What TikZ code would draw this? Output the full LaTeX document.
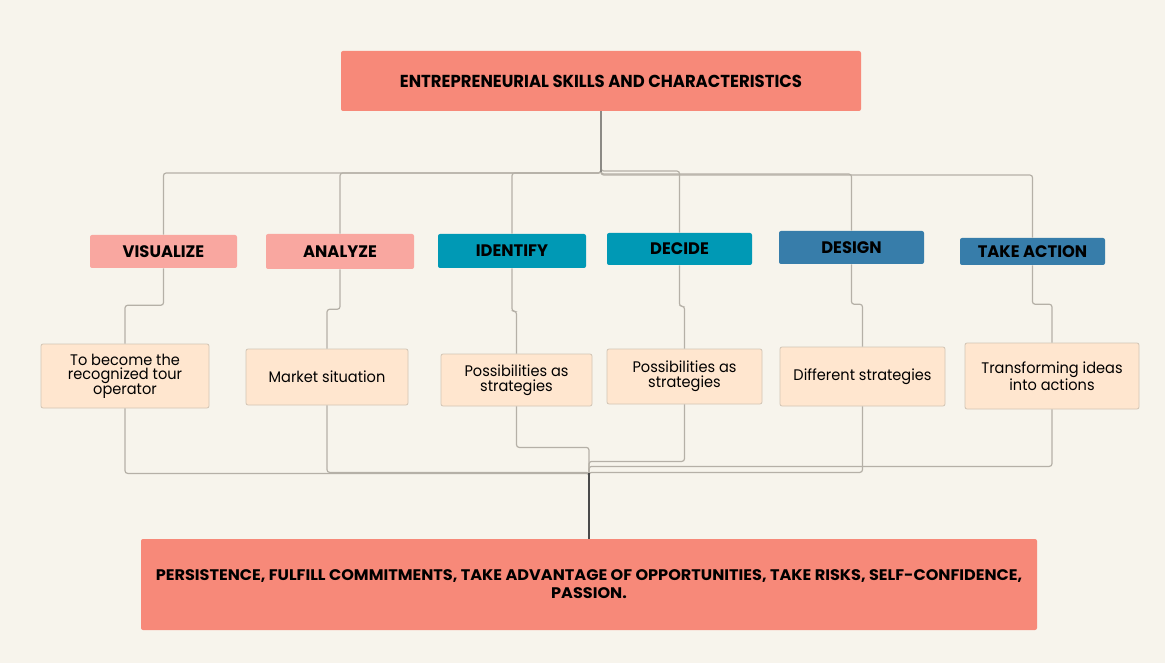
\documentclass[tikz,border=0pt]{standalone}
\usepackage{fontspec}
\setmainfont{Poppins}
\newfontfamily\headfont{Poppins}[FakeStretch=0.95]
\newfontfamily\catfont{Poppins}[FakeStretch=0.98]
\newfontfamily\bottomfont{Poppins}[FakeStretch=1.05]
\newfontfamily\bodyfont{Poppins}[FakeStretch=0.95]
\definecolor{bg}{HTML}{F7F4EC}
\definecolor{salmon}{HTML}{F78979}
\definecolor{pinkl}{HTML}{F9A7A0}
\definecolor{tealc}{HTML}{0099B5}
\definecolor{bluec}{HTML}{377DAA}
\definecolor{peach}{HTML}{FFE6CF}
\definecolor{peachline}{HTML}{D2C4B4}
\definecolor{linec}{HTML}{B5B0A7}
\definecolor{toptrunkc}{HTML}{8C8A85}
\definecolor{trunkc}{HTML}{4A4A4A}
\begin{document}
\begin{tikzpicture}[x=0.75pt,y=-0.75pt,
  box/.style={rectangle,rounded corners=1.5pt,inner sep=0pt,align=center,anchor=center},
  titlebox/.style={box,fill=salmon,font=\headfont\bfseries\fontsize{13}{15}\selectfont},
  catbox/.style={box,font=\catfont\bfseries\fontsize{12.5}{14}\selectfont},
  detbox/.style={box,fill=peach,draw=peachline,line width=0.6pt,font=\bodyfont\fontsize{11.5}{11}\selectfont},
  conn/.style={draw=linec,line width=0.9pt,rounded corners=2pt},
  trunk/.style={draw=trunkc,line width=1pt}]
\useasboundingbox (0,0) rectangle (1165,663);
\fill[bg] (0,0) rectangle (1165,663);
% top and bottom
\node[titlebox,minimum width=390pt,minimum height=45pt] (top) at (601,81) {ENTREPRENEURIAL SKILLS AND CHARACTERISTICS};
\node[box,fill=salmon,minimum width=672pt,minimum height=68.25pt,font=\bottomfont\bfseries\fontsize{11.5}{13.5}\selectfont] (bot) at (589,584.5) {PERSISTENCE, FULFILL COMMITMENTS, TAKE ADVANTAGE OF OPPORTUNITIES, TAKE RISKS, SELF-CONFIDENCE,\\PASSION.};
% categories
\node[catbox,fill=pinkl,minimum width=110.25pt,minimum height=24.75pt] (c1) at (163.5,251.5) {VISUALIZE};
\node[catbox,fill=pinkl,minimum width=111pt,minimum height=26.25pt] (c2) at (340,251.5) {ANALYZE};
\node[catbox,fill=tealc,minimum width=111pt,minimum height=25.5pt] (c3) at (512,251) {IDENTIFY};
\node[catbox,fill=tealc,minimum width=108.75pt,minimum height=24pt] (c4) at (679.5,249) {DECIDE};
\node[catbox,fill=bluec,minimum width=108.75pt,minimum height=24.75pt] (c5) at (851.5,247.5) {DESIGN};
\node[catbox,fill=bluec,minimum width=108.75pt,minimum height=20.25pt] (c6) at (1032.5,251.5) {TAKE ACTION};
% details
\node[detbox,minimum width=126pt,minimum height=48pt] (d1) at (125,376) {To become the\\recognized tour\\operator};
\node[detbox,minimum width=121.5pt,minimum height=42pt] (d2) at (327,377) {Market situation};
\node[detbox,minimum width=113.25pt,minimum height=39pt] (d3) at (516.5,380) {Possibilities as\\strategies};
\node[detbox,minimum width=116.25pt,minimum height=41.25pt] (d4) at (684.5,376.5) {Possibilities as\\strategies};
\node[detbox,minimum width=123.75pt,minimum height=44.25pt] (d5) at (862.5,376.5) {Different strategies};
\node[detbox,minimum width=130.5pt,minimum height=49.5pt] (d6) at (1052,376) {Transforming ideas\\into actions};
% hubs
\coordinate (hubtop) at (601,172);
\coordinate (hubbot) at (589,473);
% top connectors
\draw[conn] (top.south) |- ([yshift=-0.75pt]hubtop) -| (c1.north);
\draw[conn] (top.south) |- ([yshift=-0.75pt]hubtop) -| (c2.north);
\draw[conn] (top.south) |- ([yshift=-0.75pt]hubtop) -| (c3.north);
\draw[conn] (top.south) |- ([yshift=0.75pt]hubtop) -| (c4.north);
\draw[conn] (top.south) |- ([yshift=-1.5pt]hubtop) -| (c5.north);
\draw[conn] (top.south) |- ([yshift=-2.25pt]hubtop) -| (c6.north);
\draw[draw=toptrunkc,line width=0.9pt] (top.south) -- (hubtop);
% category to detail
\draw[conn] (c1.south) -- ++(0,37) -| (d1.north);
\draw[conn] (c2.south) -- ++(0,40) -| (d2.north);
\draw[conn] (c3.south) -- ++(0,43) -| (d3.north);
\draw[conn] (c4.south) -- ++(0,41) -| (d4.north);
\draw[conn] (c5.south) -- ++(0,40) -| (d5.north);
\draw[conn] (c6.south) -- ++(0,39) -| (d6.north);
% detail to bottom
\draw[conn] (d1.south) -- ++(0,65) -| (bot.north);
\draw[conn] (d2.south) -- ++(0,67) -| (bot.north);
\draw[conn] (d3.south) -- ++(0,41) -| (bot.north);
\draw[conn] (d4.south) -- ++(0,57) -| (bot.north);
\draw[conn] (d5.south) -- ++(0,66) -| (bot.north);
\draw[conn] (d6.south) -- ++(0,57) -| (bot.north);
\draw[trunk] (hubbot) -- (bot.north);
\end{tikzpicture}
\end{document}
